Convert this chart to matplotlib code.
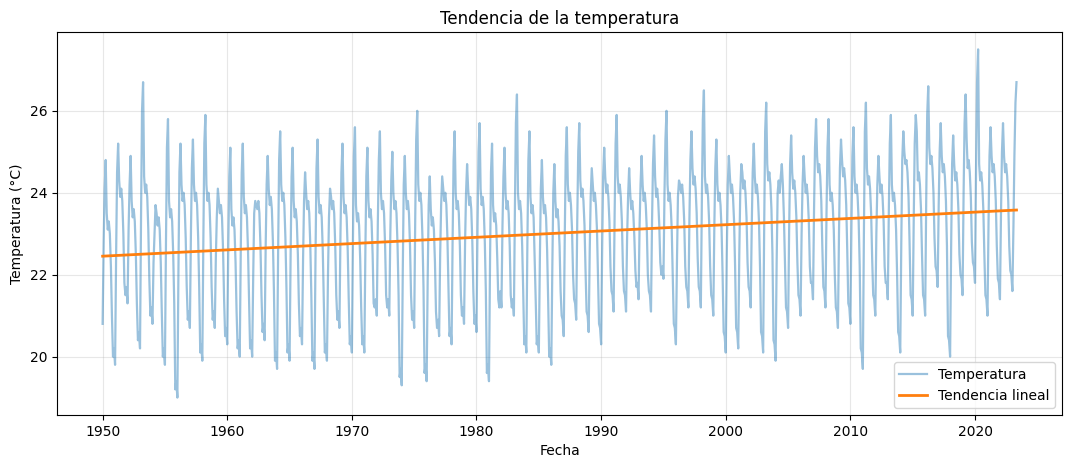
import numpy as np
import pandas as pd
import matplotlib
matplotlib.use("Agg")
import matplotlib.pyplot as plt

# valores mensuales (ene..dic), un renglon por anio
anio_inicio = 1950
temperatura = [
    [20.8, 22.8, 24.1, 24.8, 23.5, 23.1, 23.3, 23.0, 22.2, 21.0, 20.0, 20.2],  # 1950
    [19.8, 22.5, 24.5, 25.2, 24.3, 23.9, 24.1, 23.8, 23.0, 21.8, 21.5, 21.7],
    [21.3, 23.1, 24.2, 24.9, 23.8, 23.4, 23.6, 23.3, 22.5, 21.3, 20.4, 20.6],
    [20.2, 23.5, 26.0, 26.7, 24.4, 24.0, 24.2, 23.9, 23.1, 21.9, 21.0, 21.2],
    [20.8, 22.3, 23.0, 23.7, 23.5, 23.2, 23.4, 23.1, 22.3, 21.1, 20.0, 20.2],
    [19.8, 22.8, 25.1, 25.8, 23.8, 23.4, 23.6, 23.3, 22.5, 21.3, 19.2, 19.4],  # 1955
    [19.0, 22.1, 24.5, 25.2, 24.2, 23.8, 24.0, 23.7, 22.9, 21.7, 20.9, 21.1],
    [20.7, 23.0, 24.6, 25.3, 24.2, 23.8, 24.0, 23.7, 22.9, 21.7, 20.1, 20.3],
    [19.9, 22.9, 25.2, 25.9, 24.2, 23.8, 24.0, 23.7, 22.9, 21.7, 20.9, 21.1],
    [20.7, 22.4, 23.4, 24.1, 23.8, 23.5, 23.7, 23.4, 22.6, 21.4, 20.5, 20.7],
    [20.3, 22.7, 24.4, 25.1, 23.6, 23.2, 23.4, 23.1, 22.3, 21.1, 20.2, 20.4],  # 1960
    [20.0, 22.6, 24.5, 25.2, 23.9, 23.5, 23.7, 23.4, 22.6, 21.4, 20.2, 20.4],
    [20.0, 22.0, 23.5, 23.8, 23.7, 23.6, 23.8, 23.5, 22.7, 21.5, 20.6, 20.8],
    [20.4, 22.7, 24.2, 24.9, 24.1, 23.7, 23.9, 23.6, 22.8, 21.6, 19.9, 20.1],
    [19.7, 22.6, 24.8, 25.5, 24.2, 23.8, 24.0, 23.7, 22.9, 21.7, 20.1, 20.3],
    [19.9, 22.5, 24.4, 25.1, 23.8, 23.4, 23.6, 23.3, 22.5, 21.3, 20.5, 20.7],  # 1965
    [20.3, 22.4, 23.8, 24.5, 24.0, 23.6, 23.8, 23.5, 22.7, 21.5, 19.9, 20.1],
    [19.7, 22.5, 24.6, 25.3, 23.9, 23.5, 23.7, 23.4, 22.6, 21.4, 20.1, 20.3],
    [19.9, 22.0, 23.4, 24.1, 23.9, 23.6, 23.8, 23.5, 22.7, 21.5, 20.9, 21.1],
    [20.7, 23.0, 24.5, 25.2, 23.9, 23.5, 23.7, 23.4, 22.6, 21.4, 20.3, 20.5],
    [20.1, 22.8, 24.9, 25.6, 23.7, 23.3, 23.5, 23.2, 22.4, 21.2, 20.3, 20.5],  # 1970
    [20.1, 22.6, 24.4, 25.1, 23.8, 23.4, 23.6, 23.3, 22.5, 21.3, 21.2, 21.4],
    [21.0, 23.3, 24.8, 25.5, 24.0, 23.6, 23.8, 23.5, 22.7, 21.5, 21.2, 21.4],
    [21.0, 23.0, 24.3, 25.0, 24.0, 23.6, 23.8, 23.5, 22.7, 21.5, 19.5, 19.7],
    [19.3, 22.1, 24.2, 24.9, 24.0, 23.6, 23.8, 23.5, 22.7, 21.5, 20.9, 21.1],
    [20.7, 23.4, 25.3, 26.0, 24.2, 23.8, 24.0, 23.7, 22.9, 21.7, 19.6, 19.8],  # 1975
    [19.4, 21.9, 23.7, 24.4, 23.6, 23.2, 23.4, 23.1, 22.3, 21.1, 20.7, 20.9],
    [20.5, 22.5, 23.7, 24.4, 24.1, 23.8, 24.0, 23.7, 22.9, 21.7, 20.5, 20.7],
    [20.3, 22.9, 24.8, 25.5, 24.0, 23.6, 23.8, 23.5, 22.7, 21.5, 21.0, 21.2],
    [20.8, 22.8, 24.0, 24.7, 24.1, 23.7, 23.9, 23.6, 22.8, 21.6, 20.8, 21.0],
    [20.6, 23.2, 25.0, 25.7, 24.1, 23.7, 23.9, 23.6, 22.8, 21.6, 19.6, 19.8],  # 1980
    [19.4, 22.3, 24.5, 25.2, 23.7, 23.3, 23.5, 23.2, 22.4, 21.4, 21.2, 21.6],
    [21.2, 23.2, 24.4, 25.1, 24.0, 23.6, 23.8, 23.5, 22.7, 21.5, 21.2, 21.4],
    [21.0, 23.7, 25.7, 26.4, 24.0, 23.6, 23.8, 23.5, 22.7, 21.6, 20.3, 20.5],
    [20.1, 22.8, 24.8, 25.5, 23.9, 23.5, 23.7, 23.4, 22.4, 21.4, 20.3, 20.5],
    [20.1, 22.4, 24.1, 24.8, 23.9, 23.5, 23.7, 23.4, 22.6, 21.4, 20.0, 20.2],  # 1985
    [19.8, 22.2, 24.0, 24.7, 23.8, 23.4, 23.6, 23.3, 22.7, 21.6, 21.0, 20.9],
    [20.5, 23.0, 24.9, 25.6, 24.2, 23.8, 24.0, 23.7, 23.1, 22.0, 21.4, 21.3],
    [20.9, 23.3, 25.0, 25.7, 24.3, 23.9, 24.1, 23.8, 23.2, 22.1, 21.1, 21.0],
    [20.6, 22.6, 23.9, 24.6, 24.2, 23.8, 24.0, 23.7, 23.1, 22.0, 20.8, 20.7],
    [20.3, 22.7, 24.4, 25.1, 24.4, 24.0, 24.2, 23.9, 23.3, 22.2, 21.6, 21.5],  # 1990
    [21.1, 23.5, 25.2, 25.9, 24.4, 24.0, 24.2, 23.9, 23.3, 22.2, 21.6, 21.5],
    [21.1, 22.9, 23.9, 24.6, 24.0, 23.6, 23.8, 23.5, 22.9, 22.1, 21.7, 21.8],
    [21.4, 23.2, 24.2, 24.9, 24.2, 23.8, 24.0, 23.7, 23.1, 22.0, 21.6, 21.5],
    [21.1, 23.3, 24.7, 25.4, 24.4, 23.9, 24.1, 23.8, 23.2, 22.3, 22.0, 22.2],
    [21.9, 24.0, 25.3, 26.0, 24.2, 23.8, 24.0, 23.7, 23.1, 22.0, 20.8, 20.7],  # 1995
    [20.3, 22.3, 23.9, 24.3, 24.2, 24.0, 24.2, 23.9, 23.3, 22.2, 21.7, 21.6],
    [21.2, 23.4, 24.8, 25.5, 24.6, 24.2, 24.4, 24.1, 23.5, 22.4, 21.7, 21.6],
    [21.2, 23.9, 25.8, 26.5, 24.4, 24.0, 24.2, 23.9, 23.3, 22.2, 21.5, 21.4],
    [21.0, 23.2, 24.6, 25.3, 24.2, 23.8, 24.0, 23.7, 23.1, 22.0, 20.6, 20.5],
    [20.1, 22.5, 24.2, 24.9, 24.4, 24.0, 24.2, 23.9, 23.3, 22.2, 20.7, 20.6],  # 2000
    [20.2, 22.5, 24.0, 24.7, 24.5, 24.1, 24.3, 24.0, 23.4, 22.3, 21.7, 21.6],
    [21.2, 23.2, 24.5, 25.2, 24.4, 24.0, 24.2, 23.9, 23.3, 22.2, 20.6, 20.5],
    [20.1, 23.2, 25.5, 26.2, 24.7, 24.3, 24.5, 24.2, 23.6, 22.5, 20.4, 20.3],
    [19.9, 22.3, 24.0, 24.3, 24.0, 24.4, 24.7, 24.2, 23.4, 22.3, 21.2, 21.1],
    [20.7, 23.1, 24.7, 25.4, 24.5, 24.1, 24.3, 24.0, 23.4, 22.3, 21.5, 21.4],  # 2005
    [21.0, 23.0, 24.2, 24.9, 24.4, 24.0, 24.2, 23.9, 23.3, 22.2, 21.8, 21.8],
    [21.4, 23.6, 25.1, 25.8, 24.9, 24.5, 24.7, 24.4, 23.8, 22.7, 21.7, 21.6],
    [21.2, 23.5, 25.1, 25.8, 24.2, 23.8, 24.0, 23.7, 23.1, 22.0, 21.2, 21.1],
    [20.7, 23.0, 24.6, 25.3, 24.8, 24.4, 24.6, 24.3, 23.7, 22.6, 21.3, 21.2],
    [20.8, 23.2, 24.9, 25.6, 24.4, 24.0, 24.2, 23.9, 23.3, 22.2, 20.2, 20.1],  # 2010
    [19.7, 23.0, 25.5, 26.2, 24.6, 24.2, 24.4, 24.1, 23.5, 22.4, 21.5, 21.4],
    [21.0, 23.0, 24.2, 24.9, 24.4, 24.0, 24.2, 23.9, 23.3, 22.2, 21.8, 21.8],
    [21.4, 23.6, 25.2, 25.9, 24.2, 23.8, 24.0, 23.7, 23.1, 22.0, 20.6, 20.5],
    [20.1, 22.8, 24.8, 25.5, 25.0, 24.7, 24.8, 24.5, 23.9, 22.8, 21.5, 21.4],
    [21.0, 23.4, 25.2, 25.9, 25.5, 24.3, 24.5, 24.2, 23.6, 22.5, 21.5, 21.4],  # 2015
    [21.0, 23.8, 25.9, 26.6, 25.1, 24.7, 24.9, 24.6, 24.0, 22.9, 22.2, 22.1],
    [21.7, 23.7, 25.0, 25.7, 24.9, 24.5, 24.7, 24.4, 23.8, 22.7, 20.5, 20.4],
    [20.0, 22.7, 24.7, 25.4, 24.7, 24.3, 24.5, 24.2, 23.6, 22.5, 22.0, 21.9],
    [21.5, 24.0, 25.7, 26.4, 25.3, 24.6, 24.8, 24.5, 23.9, 22.8, 22.3, 22.2],
    [21.8, 24.6, 26.7, 27.5, 24.7, 24.3, 24.5, 24.2, 23.6, 22.5, 21.5, 21.4],  # 2020
    [21.0, 23.3, 24.9, 25.6, 24.9, 24.5, 24.7, 24.4, 23.8, 22.7, 21.9, 21.8],
    [21.4, 23.5, 25.0, 25.7, 24.9, 24.5, 24.7, 24.4, 23.8, 22.7, 22.1, 22.0],
    [21.6, 23.2, 24.9, 26.2, 26.7],  # 2023 (hasta mayo)
]

valores = [v for fila in temperatura for v in fila]
fechas = pd.date_range(f"{anio_inicio}-01-01", periods=len(valores), freq="MS")
serie = pd.Series(valores, index=fechas)

# tendencia lineal por minimos cuadrados
x = np.arange(len(serie))
m, b = np.polyfit(x, serie.values, 1)
tendencia = m * x + b

fig, ax = plt.subplots(figsize=(10.74, 4.7), dpi=100)
ax.plot(serie.index, serie.values, color="tab:blue", alpha=0.45, lw=1.6, label="Temperatura")
ax.plot(serie.index, tendencia, color="tab:orange", lw=2, label="Tendencia lineal")
ax.set_title("Tendencia de la temperatura")
ax.set_xlabel("Fecha")
ax.set_ylabel("Temperatura (°C)")
ax.grid(True, alpha=0.3)
ax.legend(loc="lower right")
plt.subplots_adjust(left=0.053, right=0.989, top=0.932, bottom=0.117)
fig.savefig("out.png", dpi=100)
